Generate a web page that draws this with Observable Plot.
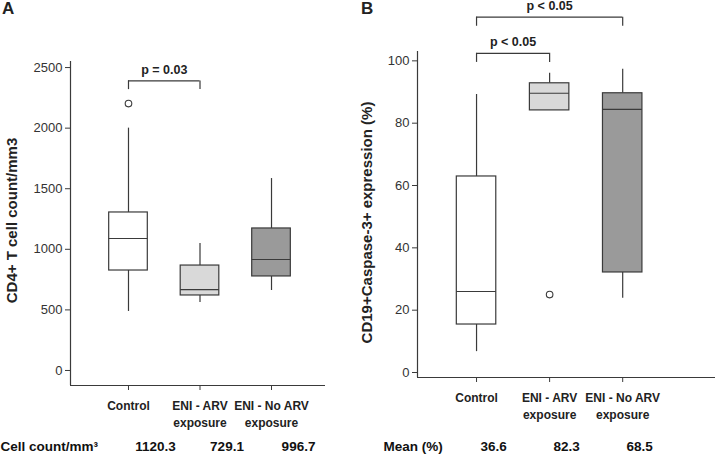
<!DOCTYPE html>
<html><head><meta charset="utf-8">
<script src="https://cdn.jsdelivr.net/npm/d3@7"></script>
<script src="https://cdn.jsdelivr.net/npm/@observablehq/plot@0.6"></script>
<style>
body{margin:0;background:#fff;font-family:"Liberation Sans",Arial,sans-serif;}
#wrap{position:relative;width:720px;height:458px;overflow:hidden;background:#fff;}
.panel{position:absolute;top:0;}
.letter{position:absolute;top:-1px;font:bold 17px "Liberation Sans",Arial,sans-serif;color:#222;}
</style></head><body>
<div id="wrap">
  <div class="panel" id="pA" style="left:0px"></div>
  <div class="panel" id="pB" style="left:360px"></div>
  <div class="letter" style="left:2px">A</div>
  <div class="letter" style="left:361px">B</div>
</div>
<script>
// Shared categories and box fills
const groups = ["Control", "ENI - ARV\nexposure", "ENI - No ARV\nexposure"];
const fills = ["#ffffff", "#d9d9d9", "#9a9a9a"];

// Panel A: CD4+ T cell count/mm3
const aLow  = [487, 561, 660];
const aQ1   = [825, 619, 776];
const aMed  = [1089, 668, 916];
const aQ3   = [1304, 866, 1172];
const aHigh = [2000, 1048, 1584];
const aOutliers = [{g: 0, v: 2203}];
const aMeans = ["1120.3", "729.1", "996.7"];
const aTicks = [0, 500, 1000, 1500, 2000, 2500];
const aBrackets = [{from: 0, to: 1, level: 2390, foot: 2318, label: "p = 0.03"}];

// Panel B: CD19+Caspase-3+ expression (%)
const bLow  = [6.7, 84.1, 23.8];
const bQ1   = [15.4, 84.1, 32.1];
const bMed  = [26, 89.6, 84.4];
const bQ3   = [62.9, 92.8, 89.6];
const bHigh = [89.2, 96, 97.3];
const bOutliers = [{g: 1, v: 25}];
const bMeans = ["36.6", "82.3", "68.5"];
const bTicks = [0, 20, 40, 60, 80, 100];
const bBrackets = [
  {from: 0, to: 1, level: 102.4, foot: 99.5, label: "p < 0.05"},
  {from: 0, to: 2, level: 114, foot: 111.1, label: "p < 0.05"}
];

const INK = "#3a3a3a";
const FONT = '"Liberation Sans", Arial, sans-serif';

function panel(cfg) {
  const boxes = groups.map((g, i) => ({
    x: i + 1, low: cfg.low[i], q1: cfg.q1[i], med: cfg.med[i], q3: cfg.q3[i], high: cfg.high[i], fill: fills[i]
  }));
  const hw = 0.27;
  const outs = cfg.outliers.map(o => ({x: o.g + 1, y: o.v}));
  const br = cfg.brackets.map(b => ({x1: b.from + 1, x2: b.to + 1, level: b.level, foot: b.foot, label: b.label}));
  const legs = br.flatMap(b => [{x: b.x1, y1: b.foot, y2: b.level}, {x: b.x2, y1: b.foot, y2: b.level}]);
  const means = cfg.means.map((m, i) => ({x: i + 1, text: m}));
  return Plot.plot({
    width: 360, height: 458,
    marginLeft: cfg.ml, marginRight: cfg.mr, marginTop: cfg.mt, marginBottom: cfg.mb,
    x: {domain: cfg.xDomain},
    y: {domain: cfg.yDomain},
    color: {type: "identity"},
    style: {fontFamily: FONT, fontSize: "13px", color: "#333", background: "transparent", overflow: "visible"},
    marks: [
      Plot.ruleX([cfg.xDomain[0]], {stroke: INK, strokeWidth: 1.2}),
      Plot.ruleY([cfg.yDomain[0]], {stroke: INK, strokeWidth: 1.2}),
      Plot.axisY({ticks: cfg.ticks, tickFormat: d => String(d), tickSize: 5, tickPadding: 3, label: null,
        stroke: INK, fill: "#333", fontSize: 13}),
      Plot.axisX({ticks: [1, 2, 3], tickFormat: i => groups[i - 1], tickSize: 5, tickPadding: 8,
        label: null, fontWeight: "bold", fill: "#222", fontSize: 12, lineHeight: 1.4, stroke: INK}),
      Plot.text([cfg.ylabel], {frameAnchor: "left", textAnchor: "middle", rotate: -90, dx: -cfg.labelOff, dy: cfg.labelDy,
        text: d => d, fontWeight: "bold", fill: "#222", fontSize: 15}),
      Plot.ruleX(boxes, {x: "x", y1: "low", y2: "q1", stroke: INK, strokeWidth: 1.2}),
      Plot.ruleX(boxes, {x: "x", y1: "q3", y2: "high", stroke: INK, strokeWidth: 1.2}),
      Plot.rect(boxes, {x1: d => d.x - hw, x2: d => d.x + hw, y1: "q1", y2: "q3", fill: "fill", stroke: INK, strokeWidth: 1.2}),
      Plot.ruleY(boxes, {y: "med", x1: d => d.x - hw, x2: d => d.x + hw, stroke: INK, strokeWidth: 1.2}),
      Plot.dot(outs, {x: "x", y: "y", r: 3.3, fill: "white", stroke: INK, strokeWidth: 1.1}),
      Plot.ruleY(br, {y: "level", x1: "x1", x2: "x2", stroke: INK, strokeWidth: 1.2}),
      Plot.ruleX(legs, {x: "x", y1: "y1", y2: "y2", stroke: INK, strokeWidth: 1.2}),
      Plot.text(br, {x: d => (d.x1 + d.x2) / 2, y: "level", dy: -11, text: "label", fontWeight: "bold", fill: "#222", fontSize: 12.5}),
      Plot.text(means, {x: "x", frameAnchor: "bottom", dy: cfg.rowDy, dx: cfg.meanDx, text: "text", fontWeight: "bold", fill: "#111", fontSize: 13.5}),
      Plot.text([cfg.rowLabel], {frameAnchor: "bottom-left", dx: cfg.rowDx, dy: cfg.rowDy, text: d => d,
        textAnchor: "start", fontWeight: "bold", fill: "#111", fontSize: 13.5})
    ]
  });
}

document.getElementById("pA").append(panel({
  low: aLow, q1: aQ1, med: aMed, q3: aQ3, high: aHigh, outliers: aOutliers, means: aMeans,
  ticks: aTicks, brackets: aBrackets, ylabel: "CD4+ T cell count/mm3", rowLabel: "Cell count/mm\u00b3",
  ml: 70, mr: 35, mt: 61, mb: 73, xDomain: [0.189, 3.755], yDomain: [-124, 2550],
  labelOff: 58, labelDy: -3, meanDx: 27, rowDx: -70, rowDy: 65
}));
document.getElementById("pB").append(panel({
  low: bLow, q1: bQ1, med: bMed, q3: bQ3, high: bHigh, outliers: bOutliers, means: bMeans,
  ticks: bTicks, brackets: bBrackets, ylabel: "CD19+Caspase-3+ expression (%)", rowLabel: "Mean (%)",
  ml: 57, mr: 5, mt: 51, mb: 81, xDomain: [0.192, 4.27], yDomain: [-1.6, 103],
  labelOff: 50, labelDy: 8, meanDx: 17, rowDx: -34, rowDy: 73
}));
</script>
</body></html>
